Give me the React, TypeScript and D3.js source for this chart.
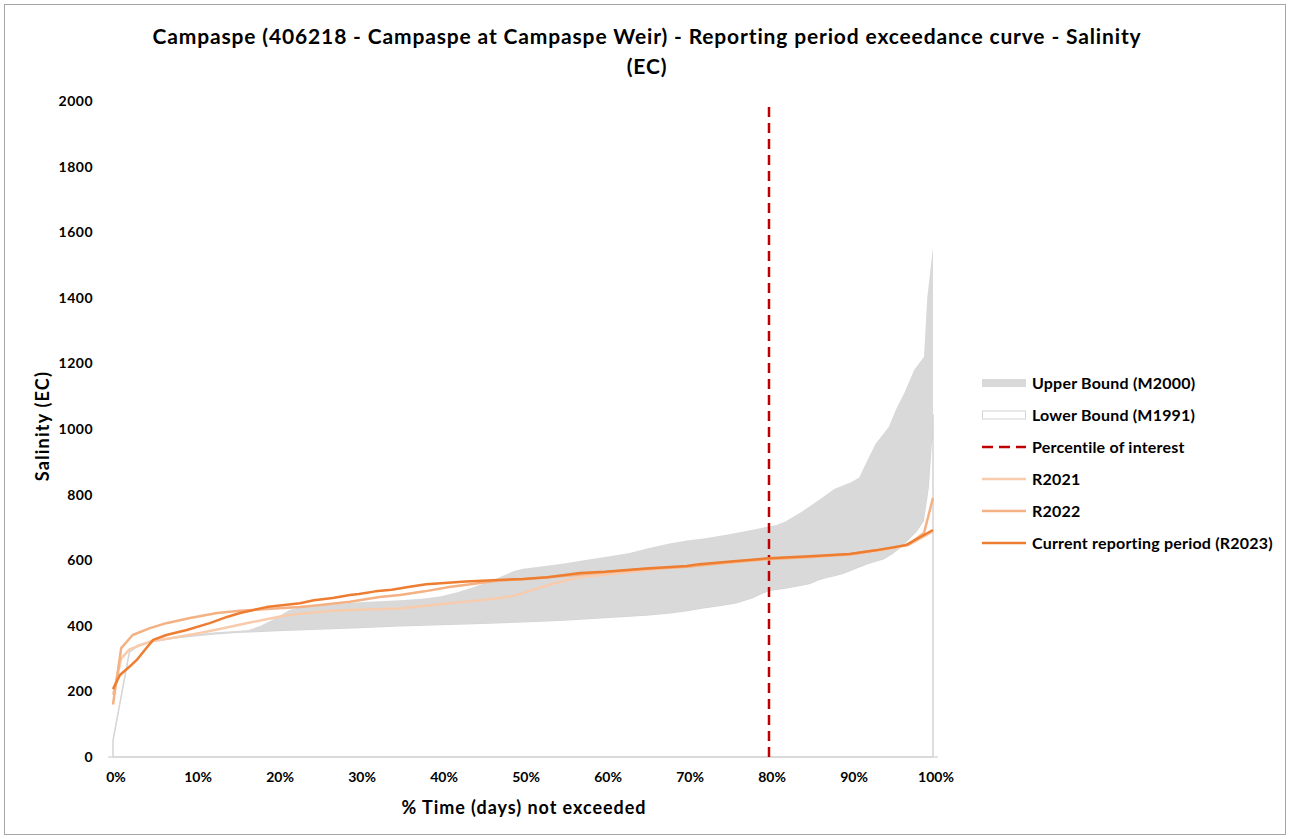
import React from 'react';
import * as d3 from 'd3';

const titleLines = [
  'Campaspe (406218 - Campaspe at Campaspe Weir) - Reporting period exceedance curve - Salinity',
  '(EC)',
];
const xAxisTitle = '% Time (days) not exceeded';
const yAxisTitle = 'Salinity (EC)';
const yTicks = [0, 200, 400, 600, 800, 1000, 1200, 1400, 1600, 1800, 2000];
const xTicks = [0, 10, 20, 30, 40, 50, 60, 70, 80, 90, 100];
const legendNames = [
  'Upper Bound (M2000)',
  'Lower Bound (M1991)',
  'Percentile of interest',
  'R2021',
  'R2022',
  'Current reporting period (R2023)',
];

// [percent of time, salinity EC]
const lowerBound: [number, number][] = [
  [0, 50], [2, 320], [3, 338], [5, 353], [7.5, 363], [10, 370], [12.5, 376], [15, 380], [17.5, 383],
  [20, 386], [25, 390], [30, 395], [35, 400], [40, 404], [45, 408], [50, 412], [55, 418], [60, 425],
  [65, 433], [68, 440], [70, 447], [72, 455], [74, 462], [76, 470], [78, 486], [79, 498], [80, 508],
  [82, 515], [84, 524], [85, 530], [86, 540], [87, 548], [88, 553], [89, 560], [90, 570], [92, 590],
  [94, 605], [95, 620], [96, 640], [97, 665], [98, 690], [98.8, 720], [99.4, 820], [99.7, 930], [100, 1045],
];
const upperBound: [number, number][] = [
  [0, 58], [2, 326], [3, 344], [5, 357], [7.5, 367], [10, 374], [12.5, 380], [15, 384], [16.5, 387],
  [18, 400], [20, 425], [21.5, 448], [23, 458], [25, 463], [28, 468], [30, 472], [35, 478], [38, 483],
  [40, 490], [42, 502], [44, 518], [46, 535], [47.5, 552], [49, 568], [50, 574], [52, 580], [55, 590],
  [58, 602], [60, 610], [63, 622], [65, 635], [68, 652], [70, 660], [72, 666], [75, 678], [78, 693],
  [80, 703], [81, 708], [82, 718], [84, 748], [86, 782], [88, 818], [90, 838], [91, 852], [92, 905],
  [93, 955], [94.6, 1006], [95.5, 1060], [96.5, 1110], [97.7, 1180], [98.9, 1220], [99.3, 1400], [100, 1555],
];
const percentileOfInterest: [number, number][] = [[80, 0], [80, 2000]];
const r2021: [number, number][] = [
  [0, 190], [1, 300], [2, 328], [4.5, 352], [7, 362], [10.6, 378], [13, 390], [16.7, 410], [20.7, 430],
  [22.8, 437], [26.8, 446], [28.9, 448], [35, 453], [41, 469], [44, 476], [47, 484], [49, 492], [51, 508],
  [53.6, 528], [57, 549], [60, 556], [63, 564], [67, 575], [71.5, 584], [75, 592], [80, 603], [85, 610],
  [90, 617], [95, 636], [97, 646], [100, 688],
];
const r2022: [number, number][] = [
  [0, 160], [1, 332], [2.4, 372], [4.5, 393], [6.5, 408], [9.4, 424], [12.7, 439], [15.5, 446],
  [18.8, 451], [22.8, 457], [25, 463], [28.9, 473], [32.5, 488], [35, 494], [38, 505], [41, 518],
  [45, 531], [47, 538], [50, 542], [55, 552], [60, 563], [65, 573], [70, 580], [75, 593], [80, 604],
  [85, 610], [90, 618], [95, 638], [97, 648], [98.9, 683], [100, 790],
];
const r2023: [number, number][] = [
  [0, 207], [0.85, 250], [2, 275], [2.9, 296], [4, 330], [4.9, 357], [6.5, 372], [9, 387], [11.8, 408],
  [13.9, 427], [15.5, 439], [18.7, 457], [22.8, 469], [24.5, 478], [26.8, 485], [28.9, 494], [30, 497],
  [32, 505], [34, 510], [36, 518], [38.2, 527], [40, 530], [43, 535], [47, 540], [50, 543], [53, 548],
  [57, 561], [60, 565], [65, 575], [70, 582], [71.5, 588], [75, 595], [80, 606], [85, 612], [89.8, 619],
  [93, 630], [96.7, 646], [100, 692],
];

const FONT = 'Lato, "Open Sans", sans-serif';
const COLORS = {
  band: '#d9d9d9',
  lowerStroke: '#d4d4d4',
  percentile: '#c00000',
  r2021: '#f8cbad',
  r2022: '#f4b183',
  r2023: '#ed7d31',
};

export default function App() {
  const W = 1290;
  const H = 839;
  const x = d3.scaleLinear().domain([0, 100]).range([113, 933]);
  const y = d3.scaleLinear().domain([0, 2000]).range([757, 101]);

  const line = d3.line<[number, number]>().x((d) => x(d[0])).y((d) => y(d[1]));
  const lowerArea = d3
    .area<[number, number]>()
    .x((d) => x(d[0]))
    .y0(() => y(0))
    .y1((d) => y(d[1]));
  const bandPoly: [number, number][] = [...upperBound, ...lowerBound.slice().reverse()];
  const bandPath = line(bandPoly) + 'Z';

  const legendX = 982;
  const legendY0 = 383;
  const legendStep = 32;

  return (
    <svg width={W} height={H} style={{ position: 'absolute', left: 0, top: 0, background: '#fff' }} fontFamily={FONT}>
      <rect x={0} y={0} width={W} height={H} fill="#fff" />
      <rect x={4.5} y={4.5} width={1281} height={830} fill="none" stroke="#a6a6a6" strokeWidth={1} />

      {titleLines.map((t, i) => (
        <text key={i} x={647} y={44 + i * 30} textAnchor="middle" fontSize={21} letterSpacing={0.85} fontWeight={700} fill="#000">
          {t}
        </text>
      ))}

      {/* lower bound area (white) */}
      <path d={lowerArea(lowerBound) || ''} fill="#fff" stroke={COLORS.lowerStroke} strokeWidth={1.5} />
      {/* band between lower and upper */}
      <path d={bandPath} fill={COLORS.band} stroke="none" />

      {/* x axis line */}
      <line x1={108} x2={938} y1={y(0)} y2={y(0)} stroke="#d9d9d9" strokeWidth={1.5} />

      {/* percentile of interest */}
      <path d={line(percentileOfInterest) || ''} stroke={COLORS.percentile} strokeWidth={2.5} strokeDasharray="10,6" fill="none" />

      <path d={line(r2021) || ''} stroke={COLORS.r2021} strokeWidth={2.5} fill="none" strokeLinejoin="round" />
      <path d={line(r2022) || ''} stroke={COLORS.r2022} strokeWidth={2.5} fill="none" strokeLinejoin="round" />
      <path d={line(r2023) || ''} stroke={COLORS.r2023} strokeWidth={2.5} fill="none" strokeLinejoin="round" />

      {yTicks.map((t) => (
        <text key={t} x={93} y={y(t)} dy="0.35em" textAnchor="end" fontSize={14} letterSpacing={0.5} fontWeight={700} fill="#000">
          {t}
        </text>
      ))}
      {xTicks.map((t) => (
        <text key={t} x={x(t) + 3} y={782} textAnchor="middle" fontSize={14} fontWeight={700} fill="#000">
          {t + '%'}
        </text>
      ))}

      <text x={524} y={814} textAnchor="middle" fontSize={18} letterSpacing={0.95} fontWeight={700} fill="#000">
        {xAxisTitle}
      </text>
      <text transform={`translate(49,426) rotate(-90)`} textAnchor="middle" fontSize={18} letterSpacing={1.2} fontWeight={700} fill="#000">
        {yAxisTitle}
      </text>

      {/* legend */}
      <g>
        <rect x={legendX} y={legendY0 - 4} width={44} height={8} fill={COLORS.band} />
        <rect x={legendX + 0.5} y={legendY0 + legendStep - 4} width={43} height={8} fill="#fff" stroke={COLORS.lowerStroke} strokeWidth={1} />
        <line x1={legendX} x2={legendX + 44} y1={legendY0 + 2 * legendStep} y2={legendY0 + 2 * legendStep} stroke={COLORS.percentile} strokeWidth={2.5} strokeDasharray="11,6" />
        <line x1={legendX} x2={legendX + 44} y1={legendY0 + 3 * legendStep} y2={legendY0 + 3 * legendStep} stroke={COLORS.r2021} strokeWidth={2.5} />
        <line x1={legendX} x2={legendX + 44} y1={legendY0 + 4 * legendStep} y2={legendY0 + 4 * legendStep} stroke={COLORS.r2022} strokeWidth={2.5} />
        <line x1={legendX} x2={legendX + 44} y1={legendY0 + 5 * legendStep} y2={legendY0 + 5 * legendStep} stroke={COLORS.r2023} strokeWidth={2.5} />
        {legendNames.map((n, i) => (
          <text key={n} x={1032} y={legendY0 + i * legendStep} dy="0.35em" fontSize={16} letterSpacing={0.2} fontWeight={700} fill="#000">
            {n}
          </text>
        ))}
      </g>
    </svg>
  );
}
